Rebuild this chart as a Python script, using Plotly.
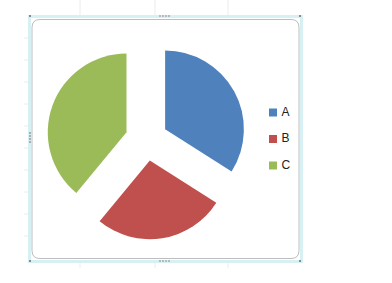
import plotly.graph_objects as go

labels = ["A", "B", "C"]
values = [34, 27, 39]
colors = ["#4F81BD", "#C0504D", "#9BBB59"]
pulls = [0.27, 0.27, 0.27]

W, H = 392, 283

def px(x):
    return x / W

def py(y):
    return 1 - y / H

fig = go.Figure()

fig.add_trace(go.Pie(
    labels=labels, values=values, sort=False, direction="clockwise", rotation=0,
    marker=dict(colors=colors, line=dict(width=0)),
    pull=pulls, textinfo="none", hoverinfo="label+value", showlegend=False,
    domain=dict(x=[px(46.5), px(246.5)], y=[py(239.5), py(39.5)]),
))

# legend drawn as markers + text on a hidden pixel axis
leg_x = 273
leg_y0 = 112.5
leg_dy = 26.5
fig.add_trace(go.Scatter(
    x=[leg_x] * len(labels),
    y=[leg_y0 + i * leg_dy for i in range(len(labels))],
    mode="markers+text", text=["\u2009" + l for l in labels], textposition="middle right",
    marker=dict(symbol="square", size=8, color=colors, line=dict(width=0)),
    textfont=dict(family="Liberation Sans, Arial, sans-serif", size=12, color="#222222"),
    hoverinfo="skip", showlegend=False, cliponaxis=False,
))

shapes = []
# faint spreadsheet gridline ticks outside the chart
for gx in [80, 155, 228]:
    shapes.append(dict(type="line", xref="x", yref="y", x0=gx, x1=gx, y0=0, y1=15,
                       line=dict(color="#ececec", width=1), layer="below"))
    shapes.append(dict(type="line", xref="x", yref="y", x0=gx, x1=gx, y0=262, y1=268,
                       line=dict(color="#ececec", width=1), layer="below"))
for gy in [38, 60, 82, 104, 126, 148, 170, 192, 214, 236]:
    shapes.append(dict(type="line", xref="x", yref="y", x0=24, x1=28, y0=gy, y1=gy,
                       line=dict(color="#ececec", width=1), layer="below"))
# selection frame (light cyan)
shapes.append(dict(type="rect", xref="x", yref="y",
                   x0=29.5, x1=301.5, y0=16.5, y1=261.5,
                   line=dict(color="#d6f0f4", width=3), fillcolor="rgba(0,0,0,0)", layer="below"))
# rounded chart border
x0, x1, y0, y1, r = 32, 299, 19.5, 258.5, 8
path = (f"M {x0+r},{y0} L {x1-r},{y0} Q {x1},{y0} {x1},{y0+r} L {x1},{y1-r} "
        f"Q {x1},{y1} {x1-r},{y1} L {x0+r},{y1} Q {x0},{y1} {x0},{y1-r} "
        f"L {x0},{y0+r} Q {x0},{y0} {x0+r},{y0} Z")
shapes.append(dict(type="path", xref="x", yref="y", path=path,
                   line=dict(color="#bdbdbd", width=1), fillcolor="white", layer="below"))
# selection handles
for hx, hy in [(30, 16), (300, 16), (30, 261), (300, 261)]:
    shapes.append(dict(type="rect", xref="x", yref="y", x0=hx - 1, x1=hx + 1, y0=hy - 1, y1=hy + 1,
                       line=dict(width=0), fillcolor="#8a8a8a", layer="above"))
for hx in [160, 163, 166, 169]:
    for hy in [16, 261]:
        shapes.append(dict(type="rect", xref="x", yref="y", x0=hx - 0.8, x1=hx + 0.8, y0=hy - 0.8, y1=hy + 0.8,
                           line=dict(width=0), fillcolor="#9a9a9a", layer="above"))
for hy in [133, 136, 139, 142]:
    shapes.append(dict(type="rect", xref="x", yref="y", x0=29, x1=31, y0=hy - 0.8, y1=hy + 0.8,
                       line=dict(width=0), fillcolor="#9a9a9a", layer="above"))

fig.update_layout(
    width=W, height=H, margin=dict(l=0, r=0, t=0, b=0),
    paper_bgcolor="white", plot_bgcolor="rgba(0,0,0,0)",
    xaxis=dict(visible=False, range=[0, W], domain=[0, 1], fixedrange=True),
    yaxis=dict(visible=False, range=[H, 0], domain=[0, 1], fixedrange=True),
    shapes=shapes, showlegend=False,
)

fig.write_html("out.html")
